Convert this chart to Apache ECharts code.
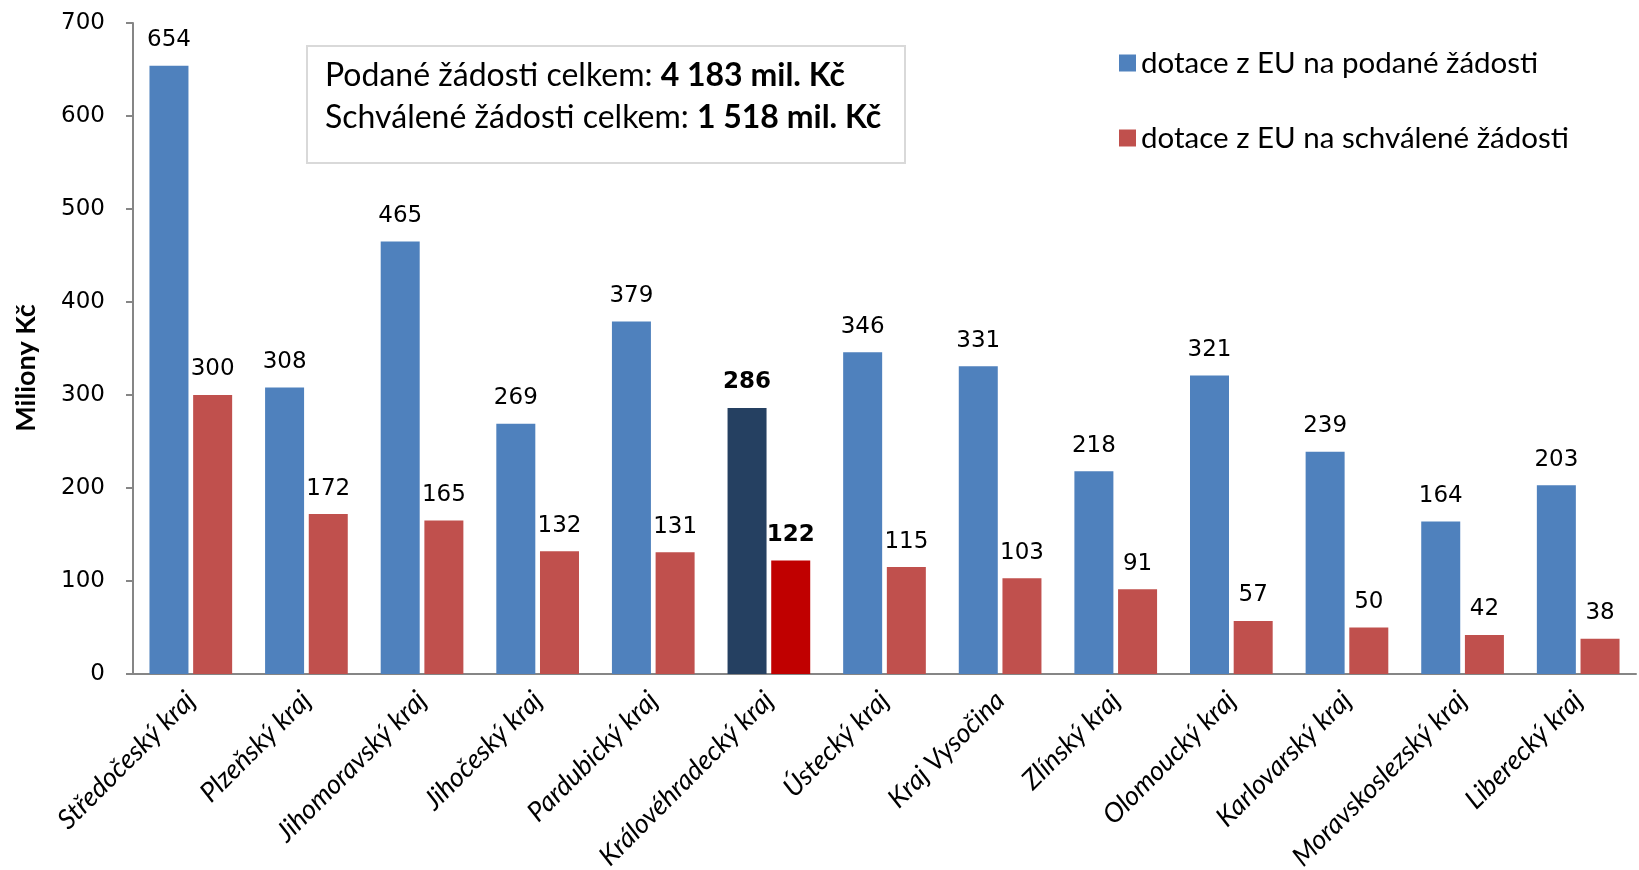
<!DOCTYPE html>
<html>
<head>
<meta charset="utf-8">
<script src="https://cdn.jsdelivr.net/npm/echarts@6/dist/echarts.min.js"></script>
<style>
  html, body { margin: 0; padding: 0; background: #fff; }
  #chart { width: 1639px; height: 870px; }
</style>
</head>
<body>
<div id="chart"></div>
<script>
// kraje
var categories = ["Středočeský kraj", "Plzeňský kraj", "Jihomoravský kraj", "Jihočeský kraj",
    "Pardubický kraj", "Královéhradecký kraj", "Ústecký kraj", "Kraj Vysočina", "Zlínský kraj",
    "Olomoucký kraj", "Karlovarský kraj", "Moravskoslezský kraj", "Liberecký kraj"];
var podane = [654, 308, 465, 269, 379, 286, 346, 331, 218, 321, 239, 164, 203];
var schvalene = [300, 172, 165, 132, 131, 122, 115, 103, 91, 57, 50, 42, 38];
var seriesNames = ["dotace z EU na podané žádosti", "dotace z EU na schválené žádosti"];
var highlightIndex = 5; // Královéhradecký kraj
var totalPodane = "4 183 mil. Kč";
var totalSchvalene = "1 518 mil. Kč";

var valueFont = "'DejaVu Sans', Verdana, sans-serif";
var textFont = "Lato, 'Open Sans', sans-serif";

function buildData(values, hiColor) {
    return values.map(function (v, i) {
        if (i !== highlightIndex) return v;
        return {
            value: v,
            itemStyle: { color: hiColor },
            label: { fontWeight: "bold" }
        };
    });
}

var chart = echarts.init(document.getElementById("chart"));

var option = {
    animation: false,
    grid: {
        left: 133,
        right: 3,
        top: 23,
        bottom: 196,
        outerBoundsMode: "none"
    },
    legend: {
        orient: "vertical",
        left: 1114,
        top: 43,
        itemWidth: 17,
        itemHeight: 17,
        itemGap: 45,
        icon: "rect",
        textStyle: {
            fontFamily: textFont,
            fontSize: 29.5,
            color: "#000",
            padding: [0, 0, 0, 0]
        },
        data: seriesNames
    },
    xAxis: {
        type: "category",
        data: categories,
        axisLine: { lineStyle: { color: "#868686", width: 2 } },
        axisTick: { length: 7, lineStyle: { color: "#868686", width: 2 } },
        axisLabel: {
            rotate: 45,
            interval: 0,
            margin: 22,
            fontFamily: textFont,
            fontStyle: "italic",
            fontSize: 27,
            color: "#000"
        }
    },
    yAxis: {
        type: "value",
        min: 0,
        max: 700,
        interval: 100,
        splitLine: { show: false },
        axisLine: { show: true, lineStyle: { color: "#868686", width: 2 } },
        axisTick: { show: true, length: 7, lineStyle: { color: "#868686", width: 2 } },
        axisLabel: {
            margin: 28,
            fontFamily: valueFont,
            fontSize: 23,
            color: "#000"
        }
    },
    series: [
        {
            name: seriesNames[0],
            type: "bar",
            barWidth: 39,
            barGap: "12%",
            itemStyle: { color: "#4F81BD" },
            label: {
                show: true,
                position: "top",
                distance: 14,
                fontFamily: valueFont,
                fontSize: 23,
                color: "#000"
            },
            data: buildData(podane, "#254061")
        },
        {
            name: seriesNames[1],
            type: "bar",
            barWidth: 39,
            itemStyle: { color: "#C0504D" },
            label: {
                show: true,
                position: "top",
                distance: 14,
                fontFamily: valueFont,
                fontSize: 23,
                color: "#000"
            },
            data: buildData(schvalene, "#C00000")
        }
    ],
    graphic: [
        {
            type: "rect",
            left: 306,
            top: 45,
            shape: { width: 598, height: 117 },
            style: { fill: "#fff", stroke: "#D9D9D9", lineWidth: 2 }
        },
        {
            type: "text",
            left: 325,
            top: 55,
            style: {
                text: "Podané žádosti celkem: {b|" + totalPodane + "}\nSchválené žádosti celkem: {b|" + totalSchvalene + "}",
                fontFamily: textFont,
                fontSize: 32,
                lineHeight: 42,
                fill: "#000",
                rich: {
                    b: { fontFamily: textFont, fontSize: 32, fontWeight: "bold", lineHeight: 42 }
                }
            }
        },
        {
            // název osy y
            type: "text",
            x: 26,
            y: 368,
            rotation: Math.PI / 2,
            style: {
                text: "Miliony Kč",
                fontFamily: textFont,
                fontWeight: "bold",
                fontSize: 27,
                fill: "#000",
                align: "center",
                verticalAlign: "middle"
            }
        }
    ]
};

chart.setOption(option);
</script>
</body>
</html>
